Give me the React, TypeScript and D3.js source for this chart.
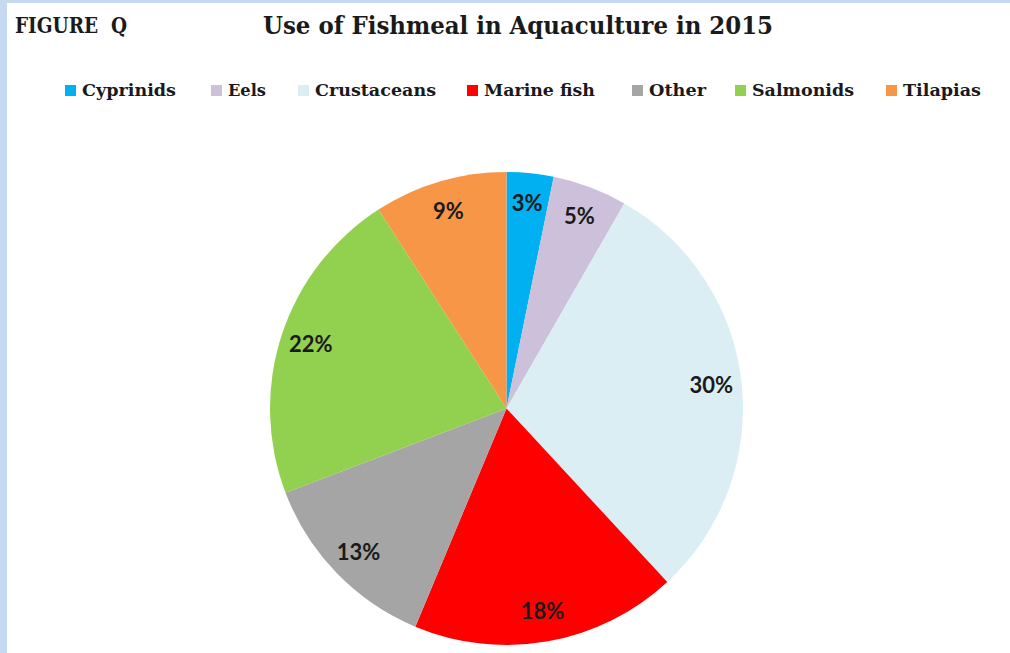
import React from "react";
import * as d3 from "d3";

const categories = ["Cyprinids", "Eels", "Crustaceans", "Marine fish", "Other", "Salmonids", "Tilapias"];
const shares = [3.2, 5.1, 29.8, 18.2, 12.9, 21.7, 9.1];
const labels = ["3%", "5%", "30%", "18%", "13%", "22%", "9%"];
const colors = ["#00b0f0", "#ccc0da", "#daeef3", "#ff0000", "#a5a5a5", "#92d050", "#f79646"];

// layout
const W = 1010;
const H = 653;
const legendX = [65, 211, 298, 467, 632, 735, 886];
const legendTextW = [94, 38, 121, 111, 57, 102, 78];
const cx = 506.5;
const cy = 408.5;
const R = 236.5;
const labelR = 206;
const serif = "'DejaVu Serif', serif";

export default function App() {
  const data = categories.map((c, i) => ({ name: c, value: shares[i], label: labels[i], color: colors[i] }));
  const pie = d3.pie<any>().value((d) => d.value).sort(null);
  const arcs = pie(data);
  const arc = d3.arc<any>().innerRadius(0).outerRadius(R);
  const labelArc = d3.arc<any>().innerRadius(labelR).outerRadius(labelR);

  return (
    <svg width={W} height={H} style={{ position: "absolute", left: 0, top: 0 }}>
      <rect x={0} y={0} width={W} height={H} fill="#c6d9f1" />
      <rect x={7} y={3} width={W - 7} height={H - 3} fill="#ffffff" />
      <text x={15} y={33} fontFamily={serif} fontWeight="bold" fontSize={23} fill="#1a1a1a" textLength={112} lengthAdjust="spacingAndGlyphs">
        {"FIGURE\u00a0\u00a0Q"}
      </text>
      <text x={263} y={34} fontFamily={serif} fontWeight="bold" fontSize={25} fill="#1a1a1a" textLength={510} lengthAdjust="spacingAndGlyphs">
        Use of Fishmeal in Aquaculture in 2015
      </text>
      {data.map((d, i) => (
        <g key={d.name}>
          <rect x={legendX[i]} y={85} width={11} height={11} fill={d.color} />
          <text x={legendX[i] + 17} y={96} fontFamily={serif} fontWeight="bold" fontSize={17} fill="#1a1a1a" textLength={legendTextW[i]} lengthAdjust="spacingAndGlyphs">
            {d.name}
          </text>
        </g>
      ))}
      <g transform={`translate(${cx},${cy})`}>
        {arcs.map((a) => (
          <path key={a.data.name} d={arc(a) as string} fill={a.data.color} />
        ))}
        {arcs.map((a) => {
          const [x, y] = labelArc.centroid(a);
          return (
            <text key={"l" + a.data.name} x={x} y={y} dy="0.35em" textAnchor="middle" fontFamily="Lato, 'Open Sans', sans-serif" fontWeight="bold" fontSize={22} fill="#1a1a1a">
              {a.data.label}
            </text>
          );
        })}
      </g>
    </svg>
  );
}
